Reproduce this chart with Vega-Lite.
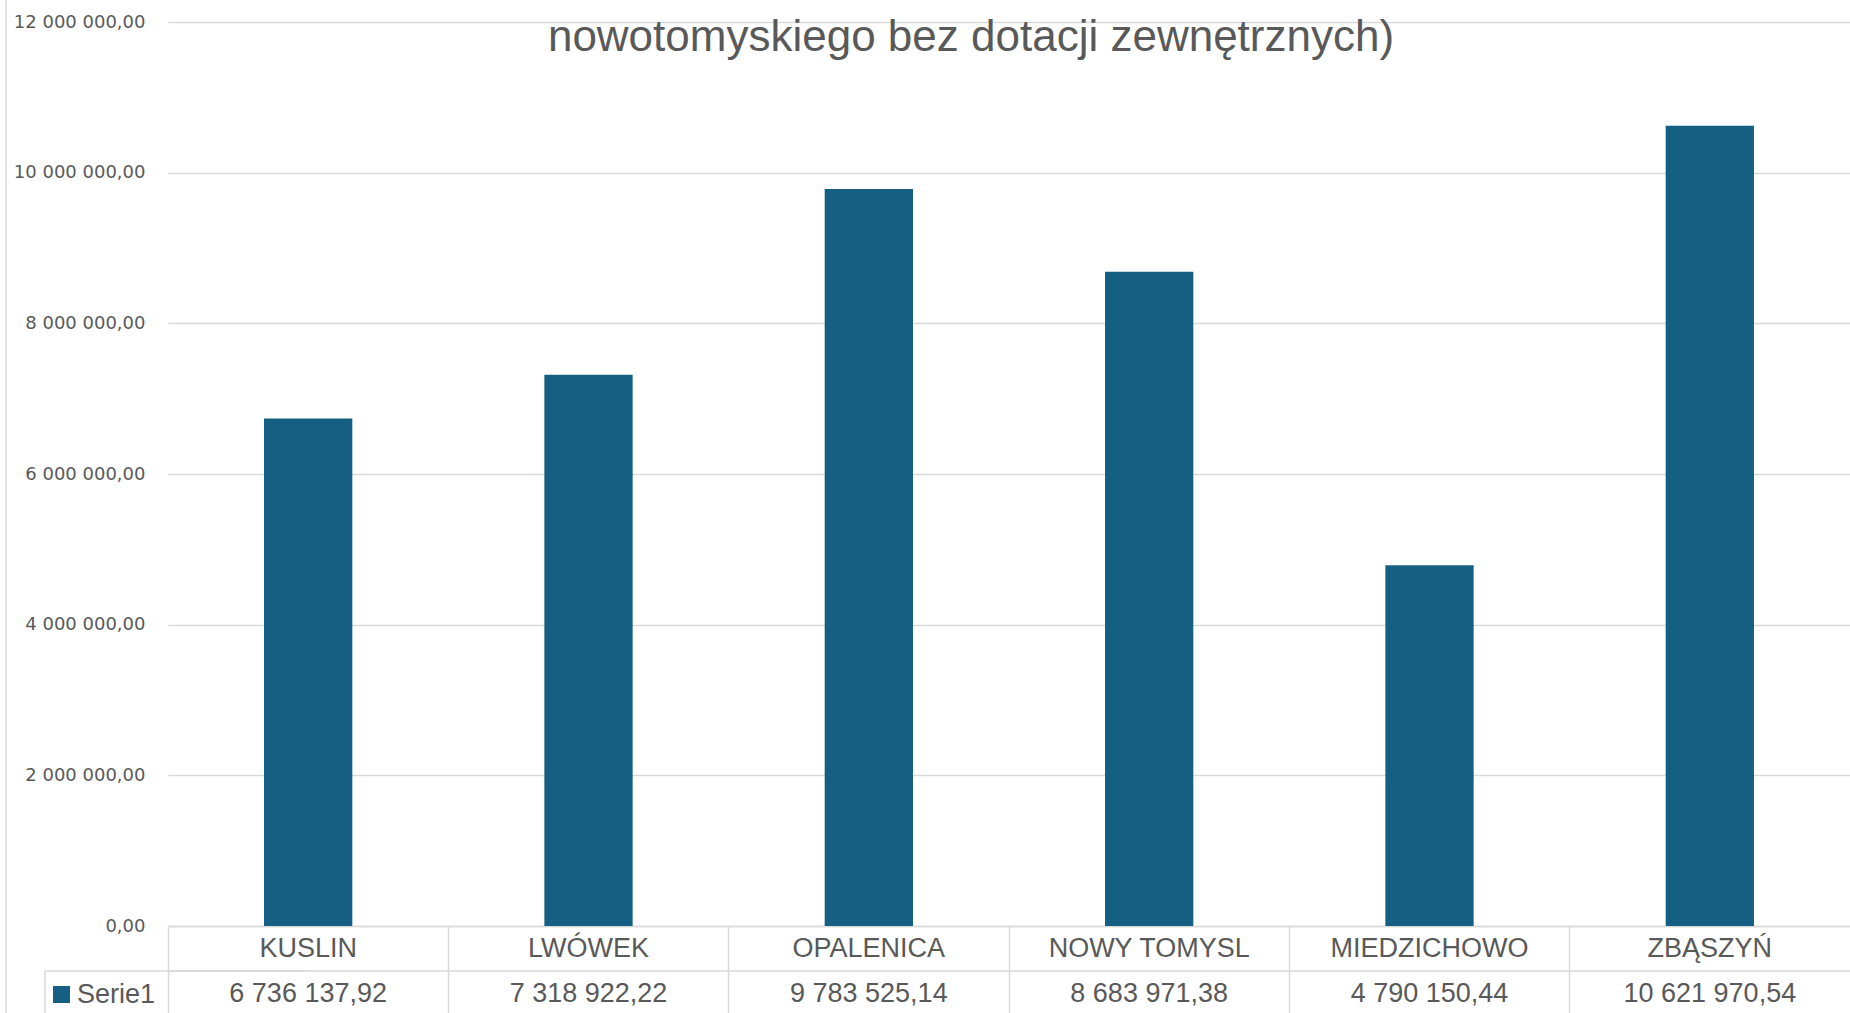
{
  "$schema": "https://vega.github.io/schema/vega-lite/v6.json",
  "width": 1682,
  "height": 904,
  "autosize": {"type": "none"},
  "padding": {"left": 168, "top": 22, "right": 0, "bottom": 87},
  "background": "white",
  "config": {
    "view": {"stroke": null},
    "locale": {"number": {"decimal": ",", "thousands": " ", "grouping": [3], "currency": ["", " zł"]}}
  },
  "title": {
    "text": "nowotomyskiego bez dotacji zewnętrznych)",
    "anchor": "middle",
    "frame": "group",
    "orient": "top",
    "offset": 0,
    "baseline": "alphabetic",
    "dx": -38,
    "dy": 96,
    "fontSize": 44,
    "font": "Liberation Sans Narrow, Arial Narrow, sans-serif",
    "fontWeight": "normal",
    "color": "#595959"
  },
  "data": {
    "values": [
      {"gmina": "KUSLIN", "wartosc": 6736137.92, "seria": "Serie1"},
      {"gmina": "LWÓWEK", "wartosc": 7318922.22, "seria": "Serie1"},
      {"gmina": "OPALENICA", "wartosc": 9783525.14, "seria": "Serie1"},
      {"gmina": "NOWY TOMYSL", "wartosc": 8683971.38, "seria": "Serie1"},
      {"gmina": "MIEDZICHOWO", "wartosc": 4790150.44, "seria": "Serie1"},
      {"gmina": "ZBĄSZYŃ", "wartosc": 10621970.54, "seria": "Serie1"}
    ]
  },
  "layer": [
    {
      "mark": {"type": "bar", "width": {"band": 0.315}},
      "encoding": {
        "x": {
          "field": "gmina", "type": "nominal",
          "scale": {"domain": ["KUSLIN", "LWÓWEK", "OPALENICA", "NOWY TOMYSL", "MIEDZICHOWO", "ZBĄSZYŃ"], "paddingInner": 0, "paddingOuter": 0},
          "axis": {"title": null, "labels": false, "bandPosition": 0, "ticks": true, "tickSize": 92, "tickColor": "#d9d9d9", "tickWidth": 1.5, "domainColor": "#d9d9d9", "domainWidth": 1.5, "grid": false}
        },
        "y": {
          "field": "wartosc", "type": "quantitative",
          "scale": {"domain": [0, 12000000], "nice": false},
          "axis": {"title": null, "values": [0, 2000000, 4000000, 6000000, 8000000, 10000000, 12000000], "format": ",.2f", "domain": false, "ticks": false, "labelPadding": 23, "labelFontSize": 18, "labelFont": "DejaVu Sans", "labelColor": "#595959", "gridColor": "#d9d9d9", "gridWidth": 1.5}
        },
        "color": {
          "field": "seria", "type": "nominal",
          "scale": {"range": ["#156082"]},
          "legend": {"title": null, "orient": "none", "legendX": -120, "legendY": 959, "symbolType": "square", "symbolSize": 289, "symbolStrokeWidth": 0, "labelFontSize": 27, "labelFont": "Liberation Sans Narrow, Arial Narrow, sans-serif", "labelColor": "#595959", "labelOffset": 2, "padding": 0}
        }
      }
    },
    {
      "mark": {"type": "text", "dy": 23, "baseline": "middle", "align": "center", "fontSize": 27, "font": "Liberation Sans Narrow, Arial Narrow, sans-serif", "color": "#595959"},
      "encoding": {
        "x": {"field": "gmina", "type": "nominal"},
        "y": {"datum": 0, "type": "quantitative"},
        "text": {"field": "gmina"}
      }
    },
    {
      "mark": {"type": "text", "dy": 68, "baseline": "middle", "align": "center", "fontSize": 27, "font": "Liberation Sans Narrow, Arial Narrow, sans-serif", "color": "#595959"},
      "encoding": {
        "x": {"field": "gmina", "type": "nominal"},
        "y": {"datum": 0, "type": "quantitative"},
        "text": {"field": "wartosc", "type": "quantitative", "format": ",.2f"}
      }
    },
    {
      "data": {"values": [{}]},
      "mark": {"type": "rule", "color": "#d9d9d9", "strokeWidth": 1.5, "yOffset": 45},
      "encoding": {"y": {"datum": 0, "type": "quantitative"}}
    },
    {
      "data": {"values": [{}]},
      "mark": {"type": "rule", "color": "#d9d9d9", "strokeWidth": 1.5, "xOffset": -123, "yOffset": 45},
      "encoding": {
        "x": {"datum": "KUSLIN", "type": "nominal", "bandPosition": 0},
        "x2": {"datum": "KUSLIN"},
        "y": {"datum": 0, "type": "quantitative"}
      }
    },
    {
      "data": {"values": [{}]},
      "mark": {"type": "rule", "color": "#d9d9d9", "strokeWidth": 1.5, "xOffset": -123, "yOffset": 45, "y2Offset": 100},
      "encoding": {
        "x": {"datum": "KUSLIN", "type": "nominal", "bandPosition": 0},
        "y": {"datum": 0, "type": "quantitative"},
        "y2": {"datum": 0}
      }
    },
    {
      "data": {"values": [{}]},
      "mark": {"type": "rule", "color": "#d9d9d9", "strokeWidth": 1.5, "xOffset": -162, "yOffset": -22, "y2Offset": 100},
      "encoding": {
        "x": {"datum": "KUSLIN", "type": "nominal", "bandPosition": 0},
        "y": {"datum": 12000000, "type": "quantitative"},
        "y2": {"datum": 0}
      }
    }
  ]
}
